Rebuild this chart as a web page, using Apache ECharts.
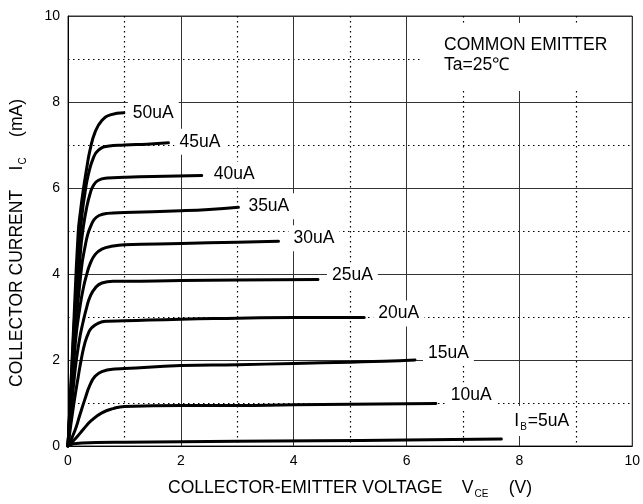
<!DOCTYPE html>
<html>
<head>
<meta charset="utf-8">
<script src="https://cdn.jsdelivr.net/npm/echarts@6/dist/echarts.min.js"></script>
<style>
html,body{margin:0;padding:0;background:#fff;}
#chart{width:643px;height:504px;}
</style>
</head>
<body>
<div id="chart"></div>
<script>
// ---- Data (VCE in V, IC in mA) ----
const curveNames = ['50uA', '45uA', '40uA', '35uA', '30uA', '25uA', '20uA', '15uA', '10uA', 'IB=5uA'];

const vce50 = [0, 0.09, 0.18, 0.22, 0.27, 0.33, 0.39, 0.48, 0.6, 0.75, 0.99];
const ic50  = [0, 2.5, 4.95, 5.45, 5.95, 6.45, 6.88, 7.3, 7.57, 7.7, 7.75];

const vce45 = [0, 0.1, 0.2, 0.25, 0.3, 0.36, 0.45, 0.54, 0.7, 1.0, 1.4, 1.78];
const ic45  = [0, 2.6, 4.7, 5.4, 5.88, 6.31, 6.7, 6.88, 6.97, 7.0, 7.02, 7.05];

const vce40 = [0, 0.11, 0.22, 0.27, 0.33, 0.39, 0.45, 0.54, 0.7, 1.0, 1.5, 2.37];
const ic40  = [0, 2.5, 4.5, 5.08, 5.54, 5.86, 6.06, 6.18, 6.23, 6.25, 6.27, 6.29];

const vce35 = [0, 0.12, 0.24, 0.3, 0.35, 0.4, 0.46, 0.55, 0.7, 1.0, 2.0, 2.5, 3.02];
const ic35  = [0, 2.5, 4.15, 4.62, 4.92, 5.1, 5.26, 5.36, 5.41, 5.43, 5.47, 5.5, 5.55];

const vce30 = [0, 0.13, 0.22, 0.28, 0.33, 0.39, 0.48, 0.6, 0.8, 1.0, 2.0, 3.0, 3.73];
const ic30  = [0, 2.4, 3.3, 3.72, 3.98, 4.23, 4.45, 4.58, 4.65, 4.68, 4.71, 4.74, 4.76];

const vce25 = [0, 0.12, 0.2, 0.27, 0.33, 0.39, 0.48, 0.6, 0.8, 1.0, 2.0, 3.0, 4.43];
const ic25  = [0, 1.7, 2.45, 2.9, 3.22, 3.47, 3.67, 3.79, 3.83, 3.83, 3.85, 3.86, 3.87];

const vce20 = [0, 0.1, 0.18, 0.24, 0.3, 0.36, 0.42, 0.54, 0.7, 1.0, 2.0, 3.0, 4.0, 5.25];
const ic20  = [0, 0.95, 1.6, 2.05, 2.4, 2.62, 2.75, 2.86, 2.9, 2.91, 2.95, 2.97, 2.99, 2.99];

const vce15 = [0, 0.12, 0.21, 0.3, 0.39, 0.48, 0.6, 0.83, 1.0, 2.0, 3.0, 4.0, 5.0, 5.6, 6.15];
const ic15  = [0, 0.35, 0.72, 1.09, 1.42, 1.62, 1.73, 1.79, 1.8, 1.87, 1.89, 1.92, 1.95, 1.97, 2.0];

const vce10 = [0, 0.15, 0.28, 0.42, 0.6, 0.8, 1.0, 2.0, 3.0, 4.0, 5.0, 6.52];
const ic10  = [0, 0.2, 0.4, 0.6, 0.77, 0.87, 0.92, 0.94, 0.94, 0.96, 0.97, 0.99];

const vce5 = [0, 0.1, 0.5, 1.0, 2.0, 3.0, 4.4, 6.0, 7.68];
const ic5  = [0, 0.05, 0.08, 0.09, 0.1, 0.11, 0.12, 0.14, 0.16];

const vceList = [vce50, vce45, vce40, vce35, vce30, vce25, vce20, vce15, vce10, vce5];
const icList  = [ic50, ic45, ic40, ic35, ic30, ic25, ic20, ic15, ic10, ic5];

// ---- styles ----
const FONT = 'Liberation Sans, Arial, sans-serif';
const labelDist = [4, 6, 7, 5, 10, 9, 9, 8, 10, 8];
const labelDy   = [0, -1, -1, -1, -3, -4, -4, -7, -8, -18];

const series = curveNames.map(function (name, k) {
  const xs = vceList[k], ys = icList[k];
  const data = xs.map(function (x, j) {
    const item = { value: [x, ys[j]] };
    if (j === xs.length - 1) {
      item.label = {
        show: true,
        position: 'right',
        distance: labelDist[k],
        offset: [0, labelDy[k]],
        formatter: k === 9 ? '{t|I}{s|B}{t|=5uA}' : name,
        color: '#000',
        fontSize: 17.5,
        fontFamily: FONT,
        backgroundColor: '#fff',
        padding: [4, 5, 4, 5],
        rich: {
          t: { fontSize: 17.5, fontFamily: FONT, color: '#000' },
          s: { fontSize: 10, fontFamily: FONT, color: '#000', padding: [12, 1, 0, 1] }
        }
      };
    }
    return item;
  });
  return {
    name: name,
    type: 'line',
    data: data,
    smooth: 0.5,
    showSymbol: true,
    symbol: 'circle',
    symbolSize: 0,
    silent: true,
    z: 5,
    lineStyle: { color: '#000', width: 3, cap: 'round', join: 'round' },
    itemStyle: { color: '#000' },
    emphasis: { disabled: true },
    animation: false
  };
});

const chart = echarts.init(document.getElementById('chart'), null, { renderer: 'canvas' });
chart.setOption({
  animation: false,
  backgroundColor: '#fff',
  grid: { left: 67, right: 10, top: 16, bottom: 57, show: true, borderColor: '#333', borderWidth: 1, backgroundColor: 'transparent' },
  xAxis: {
    type: 'value', min: 0, max: 10, interval: 2,
    name: '{t|COLLECTOR-EMITTER VOLTAGE    V}{s|CE}{t|    (V)}',
    nameLocation: 'middle', nameGap: 31,
    nameTextStyle: {
      rich: {
        t: { fontSize: 17.5, fontFamily: FONT, color: '#000' },
        s: { fontSize: 10, fontFamily: FONT, color: '#000', padding: [12, 1, 0, 1] }
      }
    },
    axisLine: { show: true, lineStyle: { color: '#000', width: 1 } },
    axisTick: { show: false },
    axisLabel: { color: '#000', fontSize: 14, fontFamily: FONT, margin: 8 },
    splitLine: { show: true, lineStyle: { color: '#333', width: 1 } },
    minorTick: { show: false, splitNumber: 2 },
    minorSplitLine: { show: true, lineStyle: { color: '#000', width: 1.2, type: [1.5, 3.5] } }
  },
  yAxis: {
    type: 'value', min: 0, max: 10, interval: 2,
    name: '{t|COLLECTOR CURRENT    I}{s|C}{t|    (mA)}',
    nameLocation: 'middle', nameGap: 40,
    nameTextStyle: {
      padding: [0, 24, 0, 0],
      rich: {
        t: { fontSize: 17.5, fontFamily: FONT, color: '#000' },
        s: { fontSize: 10, fontFamily: FONT, color: '#000', padding: [12, 1, 0, 1] }
      }
    },
    axisLine: { show: true, lineStyle: { color: '#000', width: 1 } },
    axisTick: { show: false },
    axisLabel: { color: '#000', fontSize: 14, fontFamily: FONT, margin: 8 },
    splitLine: { show: true, lineStyle: { color: '#333', width: 1 } },
    minorTick: { show: false, splitNumber: 2 },
    minorSplitLine: { show: true, lineStyle: { color: '#000', width: 1.2, type: [1.5, 3.5] } }
  },
  graphic: [{
    type: 'text',
    left: 422, top: 23, z: 100,
    style: {
      text: 'COMMON EMITTER\nTa=25℃',
      font: '17.5px Liberation Sans, Arial, sans-serif',
      fill: '#000',
      lineHeight: 20,
      backgroundColor: '#fff',
      padding: [12, 23, 16, 22]
    }
  }],
  series: series
});
</script>
</body>
</html>
